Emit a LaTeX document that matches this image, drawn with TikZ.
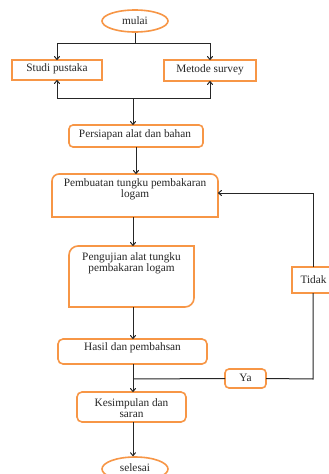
\documentclass[tikz,border=0pt]{standalone}
\usepackage{fontspec}
\setmainfont{Liberation Serif}
\usetikzlibrary{shapes.geometric,arrows.meta}
\definecolor{boxorange}{HTML}{F79646}
\definecolor{linegray}{HTML}{262626}
\tikzset{
  obox/.style={draw=boxorange, line width=1.6pt, fill=white},
  shapebox/.style={rectangle, inner sep=0pt, outer sep=0pt},
  lbl/.style={align=center, inner sep=0pt, text=black!85, font=\fontsize{11.3}{11.5}\selectfont},
  conn/.style={draw=linegray, line width=1pt},
  arr/.style={conn, -{To[length=4pt,width=6pt]}}
}
\begin{document}
\begin{tikzpicture}[x=1pt,y=-1pt]
\clip (0,0) rectangle (329,474);
\fill[white] (0,0) rectangle (329,474);

% start / end
\node[obox, ellipse, minimum width=66pt, minimum height=22pt, inner sep=0pt] (mulai) at (135,21) {};
\node[lbl] (mulait) at (135,21) {mulai};
\node[obox, ellipse, minimum width=66pt, minimum height=24pt, inner sep=0pt] (selesai) at (135,469) {};
\node[lbl] (selesait) at (135,468) {selesai};

% studi & metode
\node[obox, shapebox, minimum width=90pt, minimum height=20pt] (studi) at (57,70) {};
\node[lbl] (studit) at (57,69) {Studi pustaka};
\node[obox, shapebox, minimum width=92pt, minimum height=21pt] (metode) at (210,70.5) {};
\node[lbl] (metodet) at (210,70) {Metode survey};

% persiapan
\node[obox, shapebox, rounded corners=4pt, minimum width=134pt, minimum height=22pt] (pers) at (136,136) {};
\node[lbl] (perst) at (135,134.5) {Persiapan alat dan bahan};

% pembuatan
\node[shapebox, minimum width=166pt, minimum height=43pt] (pemb) at (135,195.5) {};
\draw[obox] (pemb.south west) [rounded corners=7pt] -- (pemb.north west) -- (pemb.north east) [sharp corners] -- (pemb.south east) -- cycle;
\node[lbl] (pembt) at (135,189.5) {Pembuatan tungku pembakaran\\logam};

% pengujian
\node[shapebox, minimum width=125pt, minimum height=61pt] (peng) at (131.5,276.5) {};
\draw[obox] (peng.south west) [rounded corners=9pt] -- (peng.north west) [sharp corners] -- (peng.north east) [rounded corners=9pt] -- (peng.south east) [sharp corners] -- cycle;
\node[lbl] (pengt) at (131.5,263.5) {Pengujian alat tungku\\pembakaran logam};

% hasil
\node[obox, shapebox, rounded corners=5pt, minimum width=149pt, minimum height=25pt] (hasil) at (132.5,351.5) {};
\node[lbl] (hasilt) at (132.5,348) {Hasil dan pembahsan};

% kesimpulan
\node[obox, shapebox, rounded corners=5pt, minimum width=109pt, minimum height=30pt] (kes) at (131.5,407) {};
\node[lbl] (kest) at (131.5,408) {Kesimpulan dan\\saran};

% ya
\node[obox, shapebox, rounded corners=4pt, minimum width=41pt, minimum height=19pt] (ya) at (245.5,378.5) {};
\node[lbl] (yat) at (245.5,378) {Ya};

% tidak
\node[obox, shapebox, minimum width=44pt, minimum height=26pt] (tidak) at (314,280) {};
\node[lbl] (tidakt) at (313.5,280) {Tidak};

% connectors
\coordinate (top) at (135,43);
\coordinate (bot) at (133,98);
\coordinate (yj) at (133,379);
\coordinate (rc) at (313,379);
\coordinate (tc) at (313,193);

\draw[conn] (mulai.south) -- (top);
\draw[arr] (top) -| (studi.north);
\draw[arr] (top) -| (metode.north);
\draw[arr] (bot) -| (studi.south);
\draw[arr] (bot) -| (metode.south);
\draw[arr] (bot) -- (bot |- pers.north);

\draw[arr] (pers.south) -- (pers.south |- pemb.north);
\draw[arr] (133,217) -- (133,246);
\draw[arr] (peng.south -| bot) -- (bot |- hasil.north);
\draw[arr] (hasil.south -| bot) -- (bot |- kes.north);
\draw[conn] (ya.west) -- (yj);
\draw[conn] (ya.east) -- (rc) -- (tidak.south -| rc);
\draw[arr] (tidak.north -| rc) -- (tc) -- (pemb.east |- tc);
\draw[arr] (kes.south -| bot) -- (bot |- selesai.north);
\end{tikzpicture}
\end{document}
